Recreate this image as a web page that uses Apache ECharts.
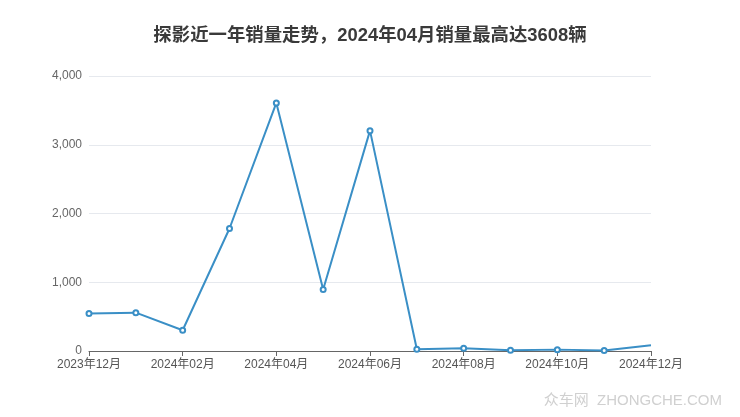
<!DOCTYPE html>
<html><head><meta charset="utf-8">
<script src="https://cdn.jsdelivr.net/npm/echarts@6/dist/echarts.min.js"></script>
<style>html,body{margin:0;padding:0;background:#fff}#c{width:740px;height:417px}</style>
</head><body><div id="c"></div>
<script>
var categories = ['2023年12月','2024年01月','2024年02月','2024年03月','2024年04月','2024年05月','2024年06月','2024年07月','2024年08月','2024年09月','2024年10月','2024年11月','2024年12月'];
var sales = [545, 558, 302, 1782, 3608, 895, 3205, 25, 40, 12, 20, 8, 82];
var yTicks = [0, 1000, 2000, 3000, 4000];
var titleText = '探影近一年销量走势，2024年04月销量最高达3608辆';
var watermark = '众车网  ZHONGCHE.COM';

var FONT = '"Liberation Sans", Arial, "Noto Sans CJK SC", sans-serif';
var chart = echarts.init(document.getElementById('c'));
var seriesData = sales.map(function(v, i){
  return i === sales.length - 1 ? {value: v, symbol: 'none'} : v;
});
chart.setOption({
  animation: false,
  title: {text: titleText, left: 'center', top: 22,
    textStyle: {fontSize: 18.4, fontWeight: 'bold', color: '#3a3a3a', fontFamily: FONT}},
  grid: {left: 89, right: 89, top: 76, bottom: 66},
  xAxis: {type: 'category', data: categories, boundaryGap: false,
    axisLine: {lineStyle: {color: '#666'}},
    axisTick: {interval: 1, lineStyle: {color: '#666'}},
    axisLabel: {interval: 1, color: '#555', fontSize: 12, margin: 8, fontFamily: FONT}},
  yAxis: {type: 'value', min: yTicks[0], max: yTicks[yTicks.length-1], interval: 1000,
    axisLine: {show: false}, axisTick: {show: false},
    axisLabel: {color: '#666', fontSize: 12, margin: 7, fontFamily: FONT, formatter: function(v){return v.toLocaleString('en-US');}},
    splitLine: {lineStyle: {color: '#e6e9ee'}}},
  series: [{type: 'line', data: seriesData, symbol: 'emptyCircle', symbolSize: 5,
    lineStyle: {color: '#3a8fc6', width: 2}, itemStyle: {color: '#3a8fc6', borderWidth: 1.5}}],
  graphic: [{type: 'text', right: 18, bottom: 9,
    style: {text: watermark, fontSize: 15, fill: '#d0d0d0', fontFamily: FONT,
      shadowColor: 'rgba(0,0,0,0.25)', shadowBlur: 1, shadowOffsetX: 1, shadowOffsetY: 1}}]
});
</script></body></html>
